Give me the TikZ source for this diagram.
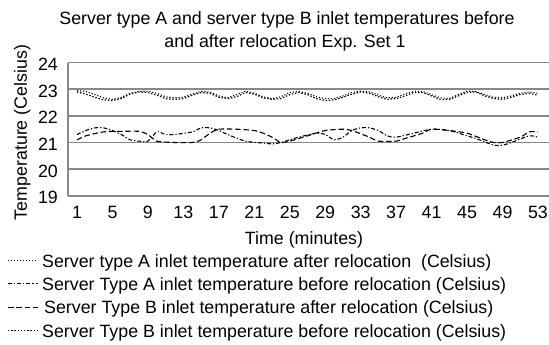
\documentclass[tikz,border=0pt]{standalone}
\usepackage{fontspec}
\setmainfont{Liberation Sans}
\definecolor{gridgray}{RGB}{136,136,136}
\begin{document}
\begin{tikzpicture}[x=1pt,y=-1pt,
  lbl/.style={font=\fontsize{17.8}{21}\selectfont, inner sep=0pt},
  gridline/.style={draw=gridgray, line width=1.6pt},
  serA/.style={black, line width=1.1pt, dash pattern=on 1.1pt off 1.9pt},
  serAb/.style={black, line width=1.1pt, dash pattern=on 4pt off 2pt on 1.2pt off 2pt},
  serBa/.style={black, line width=1.1pt, dash pattern=on 5.5pt off 2.8pt},
  serBb/.style={black, line width=1.2pt, dash pattern=on 1.4pt off 1.8pt}]
\useasboundingbox (0,0) rectangle (549,345);
% grid
\foreach \t in {0,...,5}
  \draw[gridline] (67.7,{195.7-\t*26.6}) -- (549,{195.7-\t*26.6});
\draw[gridline] (67.7,62.7) -- (67.7,195.7);
% y labels
\foreach \t in {19,...,24}
  \node[lbl, anchor=base east] (yl\t) at (58,{195.7-(\t-19)*26.6+8}) {\t};
% x labels
\foreach \m in {1,5,...,53}
  \node[lbl, anchor=base] (xl\m) at ({77+(\m-1)*8.865},218.5) {\m};
% titles
\node[lbl, anchor=base] (t1) at (287,25) {Server type A and server type B inlet temperatures before};
\node[lbl, anchor=base] (t2) at (285,47.5) {and after relocation Exp. Set 1};
\node[lbl, anchor=base, rotate=90] (ytitle) at (27,132.5) {Temperature (Celsius)};
\node[lbl, anchor=base] (xtitle) at (304,244.5) {Time (minutes)};
% data
\begin{scope}[x=8.865pt, y=26.6pt, xshift=68.135pt, yshift=-701.1pt]
\draw[serA] plot coordinates {(1,22.95)(2,22.92)(3,22.8)(4,22.68)(5,22.62)(6,22.7)(7,22.85)(8,22.92)(9,22.93)(10,22.85)(11,22.72)(12,22.68)(13,22.7)(14,22.82)(15,22.92)(16,22.9)(17,22.75)(18,22.68)(19,22.8)(20,22.93)(21,22.85)(22,22.72)(23,22.65)(24,22.72)(25,22.88)(26,22.92)(27,22.85)(28,22.72)(29,22.65)(30,22.65)(31,22.75)(32,22.88)(33,22.93)(34,22.9)(35,22.78)(36,22.68)(37,22.7)(38,22.82)(39,22.92)(40,22.92)(41,22.8)(42,22.68)(43,22.65)(44,22.8)(45,22.93)(46,22.92)(47,22.8)(48,22.7)(49,22.68)(50,22.75)(51,22.85)(52,22.9)(53,22.85)};
\draw[serBb] plot coordinates {(1,22.9)(2,22.82)(3,22.7)(4,22.6)(5,22.58)(6,22.65)(7,22.82)(8,22.9)(9,22.88)(10,22.78)(11,22.65)(12,22.62)(13,22.65)(14,22.78)(15,22.88)(16,22.85)(17,22.7)(18,22.65)(19,22.72)(20,22.88)(21,22.82)(22,22.68)(23,22.62)(24,22.65)(25,22.8)(26,22.88)(27,22.8)(28,22.65)(29,22.58)(30,22.6)(31,22.7)(32,22.82)(33,22.9)(34,22.85)(35,22.72)(36,22.62)(37,22.65)(38,22.75)(39,22.88)(40,22.88)(41,22.75)(42,22.62)(43,22.62)(44,22.75)(45,22.88)(46,22.9)(47,22.75)(48,22.65)(49,22.62)(50,22.7)(51,22.8)(52,22.85)(53,22.78)};
\draw[serAb] plot[smooth, tension=0.4] coordinates {(1,21.3)(2,21.45)(3,21.55)(4,21.55)(5,21.45)(6,21.3)(7,21.1)(8,21.05)(9,21.05)(10,21.4)(11,21.3)(12,21.3)(14,21.4)(15,21.55)(16,21.55)(17,21.45)(18,21.3)(20,21.05)(22,20.98)(23,20.95)(24,21.0)(26,21.2)(28,21.35)(29,21.3)(30,21.1)(31,21.2)(32,21.45)(33,21.55)(34,21.55)(35,21.45)(36,21.25)(37,21.2)(39,21.35)(41,21.5)(43,21.45)(45,21.25)(46,21.15)(48,20.9)(49,20.9)(50,21.0)(52,21.25)(53,21.2)};
\draw[serBa] plot[smooth, tension=0.4] coordinates {(1,21.1)(2,21.25)(4,21.4)(6,21.42)(8,21.42)(9,21.3)(10,21.05)(12,21.0)(14,21.0)(15,21.1)(16,21.35)(17,21.5)(19,21.5)(21,21.45)(22,21.35)(23,21.2)(24,21.0)(25,21.05)(27,21.25)(29,21.45)(31,21.5)(32,21.45)(34,21.2)(35,21.05)(37,21.05)(38,21.15)(40,21.35)(41,21.5)(43,21.45)(45,21.35)(47,21.1)(48,21.0)(49,21.0)(51,21.2)(52,21.4)(53,21.4)};
\end{scope}
% legend
\coordinate (s1a) at (8,260.5); \coordinate (s1b) at (38,260.5);
\coordinate (s2a) at (8,283.8); \coordinate (s2b) at (38,283.8);
\coordinate (s3a) at (8,307.2); \coordinate (s3b) at (40,307.2);
\coordinate (s4a) at (8,330.5); \coordinate (s4b) at (38,330.5);
\draw[serA] (s1a) -- (s1b);
\draw[serAb] (s2a) -- (s2b);
\draw[serBa] (s3a) -- (s3b);
\draw[serBb] (s4a) -- (s4b);
\node[lbl, anchor=base west] (l1) at (42,267) {Server type A inlet temperature after relocation\ \ (Celsius)};
\node[lbl, anchor=base west] (l2) at (42,290.3) {Server Type A inlet temperature before relocation (Celsius)};
\node[lbl, anchor=base west] (l3) at (44,313.7) {Server Type B inlet temperature after relocation (Celsius)};
\node[lbl, anchor=base west] (l4) at (42,337) {Server Type B inlet temperature before relocation (Celsius)};
\end{tikzpicture}
\end{document}
